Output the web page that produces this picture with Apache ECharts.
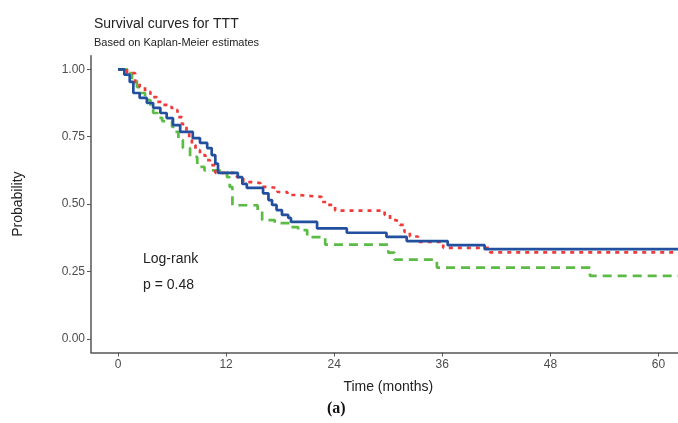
<!DOCTYPE html>
<html>
<head>
<meta charset="utf-8">
<script src="https://cdn.jsdelivr.net/npm/echarts@6/dist/echarts.min.js"></script>
<style>
  html, body { margin: 0; padding: 0; background: #fff; }
  #main { width: 678px; height: 423px; }
</style>
</head>
<body>
<div id="main"></div>
<script>
// x axis ticks (months) and y axis ticks (probability)
var xTicks = [0, 12, 24, 36, 48, 60];
var yTicks = [0, 0.25, 0.5, 0.75, 1];

// Kaplan-Meier step points: time, survival after event
var blueTime = [0, 0.7, 1.3, 1.7, 2.4, 3.2, 3.9, 4.7, 5.4, 6.1, 6.9, 8.3, 9.1, 9.9, 10.4, 10.8, 11.1, 13.3, 13.8, 14.3, 16.1, 16.7, 17.1, 17.6, 18.2, 18.9, 19.2, 22.1, 25.4, 29.8, 32.05, 36.6, 40.7, 63];
var blueSurv = [1.0, 0.98, 0.953, 0.912, 0.894, 0.875, 0.857, 0.838, 0.819, 0.793, 0.768, 0.745, 0.727, 0.708, 0.682, 0.65, 0.616, 0.60, 0.575, 0.56, 0.54, 0.515, 0.497, 0.478, 0.46, 0.449, 0.434, 0.41, 0.394, 0.379, 0.363, 0.348, 0.333, 0.333];

var redTime = [0, 1.0, 1.9, 2.4, 3.0, 3.6, 4.3, 4.9, 5.6, 6.0, 6.6, 7.1, 7.6, 7.9, 8.2, 8.6, 9.1, 9.7, 10.2, 10.8, 13.2, 13.9, 14.9, 15.8, 16.7, 17.7, 18.8, 19.9, 22.6, 23.3, 24.1, 29.6, 30.2, 30.8, 31.3, 31.8, 32.4, 33.3, 36.1, 41.3, 63];
var redSurv = [1.0, 0.986, 0.949, 0.934, 0.916, 0.897, 0.879, 0.868, 0.86, 0.849, 0.823, 0.797, 0.764, 0.738, 0.719, 0.70, 0.682, 0.663, 0.645, 0.616, 0.60, 0.582, 0.578, 0.564, 0.56, 0.545, 0.534, 0.527, 0.508, 0.497, 0.476, 0.46, 0.441, 0.434, 0.423, 0.397, 0.38, 0.36, 0.338, 0.321, 0.321];

var greenTime = [0, 1.2, 1.55, 2.1, 2.4, 3.0, 3.6, 3.9, 4.4, 4.9, 6.0, 6.3, 6.7, 7.2, 8.0, 8.8, 9.6, 11.1, 12.1, 12.4, 12.7, 15.5, 16.0, 17.4, 19.1, 20.0, 21.0, 23.0, 30.0, 30.7, 35.4, 52.4, 63];
var greenSurv = [1.0, 0.986, 0.96, 0.934, 0.912, 0.886, 0.857, 0.838, 0.82, 0.808, 0.786, 0.768, 0.738, 0.708, 0.675, 0.638, 0.625, 0.62, 0.60, 0.564, 0.496, 0.478, 0.441, 0.43, 0.415, 0.404, 0.378, 0.35, 0.32, 0.294, 0.265, 0.234, 0.234];

function pairs(t, s) {
  var out = [];
  for (var i = 0; i < t.length; i++) out.push([t[i], s[i]]);
  return out;
}

var chart = echarts.init(document.getElementById("main"));
var axisColor = "#555";
var labelStyle = { color: "#4d4d4d", fontSize: 12, fontFamily: "Liberation Sans" };

chart.setOption({
  animation: false,
  title: {
    text: "Survival curves for TTT",
    subtext: "Based on Kaplan-Meier estimates",
    left: 89,
    top: 12,
    itemGap: 6,
    textStyle: { fontSize: 14, fontWeight: "normal", color: "#222", fontFamily: "Liberation Sans" },
    subtextStyle: { fontSize: 11, color: "#222", fontFamily: "Liberation Sans" }
  },
  grid: {
    left: 91,
    right: -7.5,
    top: 55.8,
    bottom: 70.5,
    outerBoundsMode: "none"
  },
  xAxis: {
    type: "value",
    min: -3,
    max: 63,
    name: "Time (months)",
    nameLocation: "middle",
    nameGap: 28,
    nameTextStyle: { fontSize: 14, color: "#222", fontFamily: "Liberation Sans" },
    axisLine: { onZero: false, lineStyle: { color: axisColor, width: 1.5 } },
    axisTick: { customValues: xTicks, length: 4, lineStyle: { color: axisColor } },
    axisLabel: Object.assign({ customValues: xTicks, margin: 6 }, labelStyle),
    splitLine: { show: false }
  },
  yAxis: {
    type: "value",
    min: -0.05,
    max: 1.05,
    name: "Probability",
    nameLocation: "middle",
    nameGap: 66,
    nameTextStyle: { fontSize: 14, color: "#222", fontFamily: "Liberation Sans" },
    axisLine: { show: true, onZero: false, lineStyle: { color: axisColor, width: 1.5 } },
    axisTick: { show: true, customValues: yTicks, length: 4, lineStyle: { color: axisColor } },
    axisLabel: Object.assign({
      customValues: yTicks,
      margin: 6,
      formatter: function (v) { return v.toFixed(2); }
    }, labelStyle),
    splitLine: { show: false }
  },
  series: [
    {
      name: "Group 3",
      type: "line",
      step: "end",
      symbol: "none",
      data: pairs(greenTime, greenSurv),
      lineStyle: { color: "#5bbb45", width: 2.7, type: [9, 6] }
    },
    {
      name: "Group 1",
      type: "line",
      step: "end",
      symbol: "none",
      data: pairs(redTime, redSurv),
      lineStyle: { color: "#ee3a3a", width: 2.7, type: [4, 5] }
    },
    {
      name: "Group 2",
      type: "line",
      step: "end",
      symbol: "none",
      data: pairs(blueTime, blueSurv),
      lineStyle: { color: "#22509f", width: 2.7 }
    }
  ],
  graphic: [
    { type: "text", left: 143, top: 252, style: { text: "Log-rank", fontSize: 14, fill: "#222", fontFamily: "Liberation Sans" } },
    { type: "text", left: 143, top: 278, style: { text: "p = 0.48", fontSize: 14, fill: "#222", fontFamily: "Liberation Sans" } },
    { type: "text", left: 327, top: 401, style: { text: "(a)", fontSize: 16, fontWeight: "bold", fill: "#111", fontFamily: "Liberation Serif" } }
  ]
});
</script>
</body>
</html>
